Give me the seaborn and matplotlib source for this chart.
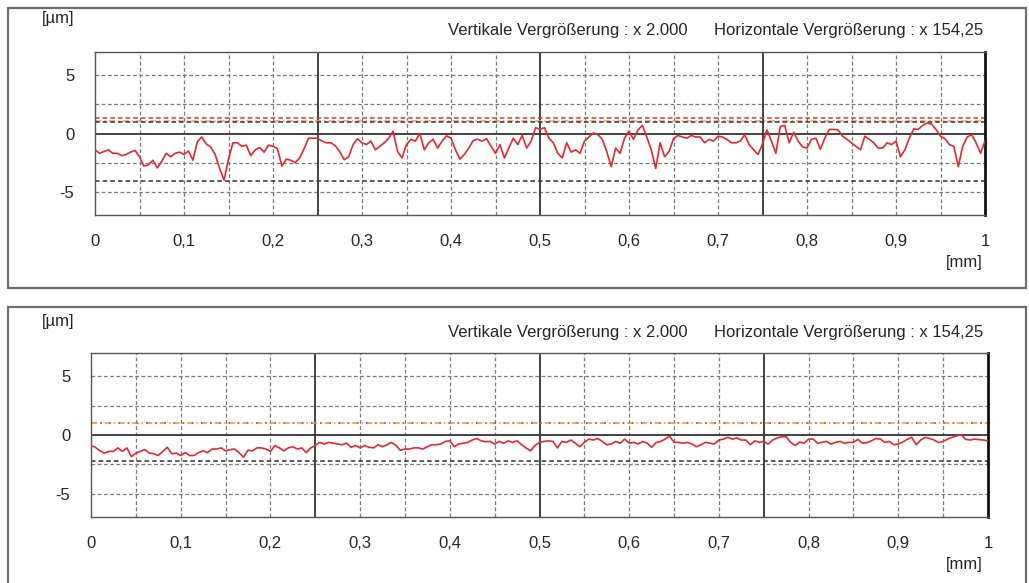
import matplotlib
matplotlib.use("Agg")
import matplotlib.pyplot as plt
from matplotlib.patches import Rectangle
from matplotlib.ticker import MultipleLocator, FixedLocator, FuncFormatter
import numpy as np
import pandas as pd
import seaborn as sns

top_um = [
    -1.4, -1.7, -1.55, -1.4, -1.7, -1.7, -1.9, -1.8, -1.6, -1.45,
    -2.0, -2.8, -2.7, -2.3, -2.95, -2.4, -1.7, -2.0, -1.7, -1.6,
    -1.8, -1.5, -2.3, -0.7, -0.3, -0.9, -1.15, -1.8, -3.0, -4.0,
    -2.2, -0.8, -0.8, -1.1, -1.0, -1.9, -1.4, -1.2, -1.6, -1.0,
    -1.1, -1.3, -2.8, -2.2, -2.3, -2.5, -2.1, -1.3, -0.4, -0.4,
    -0.4, -0.65, -0.8, -0.8, -1.05, -1.55, -2.25, -2.0, -0.95, -0.45,
    -0.8, -0.95, -0.65, -1.4, -1.1, -0.8, -0.4, 0.2, -1.55, -2.1,
    -0.95, -0.5, -0.65, 0.0, -1.4, -0.8, -0.5, -1.25, -0.65, -0.2,
    -0.4, -1.4, -2.2, -1.8, -1.25, -0.6, -0.5, -0.65, -0.45, -1.1,
    -1.7, -0.95, -2.1, -1.25, -0.4, -0.95, -0.17, -1.25, -0.65, 0.5,
    0.35, 0.5, -0.4, -0.8, -1.7, -2.1, -0.8, -1.6, -1.4, -1.7,
    -0.65, -0.3, 0.05, -0.1, -0.5, -1.55, -2.85, -1.25, -1.7, -0.4,
    0.2, -0.5, 0.3, 0.7, -0.3, -1.4, -3.0, -0.8, -2.0, -1.55,
    -0.45, -0.17, -0.3, -0.4, -0.17, -0.3, -0.3, -0.8, -0.5, -0.65,
    -0.23, -0.3, -0.5, -0.8, -0.8, -0.65, -0.1, -0.95, -1.4, -1.8,
    -0.9, 0.3, -0.65, -1.7, 0.6, 0.7, -0.8, 0.1, -0.65, -1.15,
    -1.25, -0.5, -0.4, -1.35, -0.4, 0.35, 0.35, 0.3, -0.23, -0.5,
    -0.8, -1.1, -1.4, -0.23, -0.5, -0.8, -1.25, -1.25, -0.8, -0.95,
    -0.65, -2.0, -1.4, -0.4, 0.4, 0.35, 0.7, 0.9, 0.8, 0.35,
    -0.23, -0.45, -0.95, -1.1, -2.85, -1.1, -0.3, -0.1, -0.8, -1.7,
    -0.65,
]
bottom_um = [
    -0.9, -1.05, -1.35, -1.55, -1.4, -1.4, -1.1, -1.4, -1.1, -1.85,
    -1.55, -1.4, -1.25, -1.55, -1.6, -1.75, -1.4, -1.05, -1.6, -1.55,
    -1.75, -1.5, -1.75, -1.75, -1.5, -1.35, -1.5, -1.2, -1.2, -1.1,
    -1.35, -1.25, -1.2, -1.5, -1.9, -1.3, -1.35, -1.1, -1.1, -1.2,
    -1.4, -0.9, -1.1, -1.35, -1.1, -1.0, -1.2, -1.1, -1.5, -1.1,
    -0.9, -0.63, -0.77, -0.63, -0.7, -0.77, -0.83, -0.7, -1.05, -0.9,
    -1.1, -0.9, -1.05, -1.1, -0.83, -1.0, -0.83, -0.63, -0.9, -1.3,
    -1.2, -1.2, -1.1, -1.1, -1.2, -1.0, -0.83, -0.83, -0.77, -0.55,
    -0.5, -1.0, -0.77, -0.7, -0.63, -0.43, -0.3, -0.5, -0.57, -0.55,
    -0.77, -0.55, -0.7, -0.5, -0.63, -0.5, -0.83, -1.1, -1.35, -0.9,
    -0.63, -0.55, -0.5, -0.55, -1.1, -0.55, -0.63, -0.43, -0.7, -1.0,
    -0.63, -0.35, -0.43, -0.3, -0.55, -0.83, -0.77, -0.55, -0.7, -0.35,
    -0.7, -0.63, -0.77, -0.55, -0.7, -1.05, -0.65, -0.55, -0.35, -0.1,
    -0.63, -0.63, -0.7, -0.63, -0.77, -1.0, -0.83, -0.63, -0.7, -0.77,
    -0.43, -0.35, -0.2, -0.35, -0.25, -0.43, -0.43, -0.83, -0.5, -0.63,
    -0.55, -0.77, -0.43, -0.25, -0.15, -0.15, -0.63, -0.9, -0.6, -0.7,
    -0.35, -0.35, -0.7, -0.63, -0.55, -0.77, -0.63, -0.55, -0.7, -0.63,
    -0.63, -0.37, -0.7, -0.65, -0.5, -0.3, -0.35, -0.63, -0.55, -0.83,
    -0.77, -0.6, -0.37, -0.2, -0.83, -0.43, -0.2, -0.3, -0.43, -0.65,
    -0.55, -0.35, -0.2, -0.08, 0.03, -0.37, -0.43, -0.35, -0.4, -0.43,
    -0.5,
]
x_mm = np.linspace(0, 1, len(top_um))

# Bezugslinien (Wert, Farbe, Linienstil)
top_refs = [(1.3, "#e8303a", (0, (3, 2))), (1.1, "#f0a040", (0, (4, 2, 1, 2))),
            (0.95, "#333333", (0, (3, 2))), (-4.1, "#333333", (0, (3, 2)))]
bottom_refs = [(1.0, "#f09030", (0, (4, 2, 1, 2))), (1.0, "#e8303a", (0, (1, 5))),
               (-2.2, "#333333", (0, (3, 2)))]

text_vert = "Vertikale Vergrößerung : x 2.000"
text_horz = "Horizontale Vergrößerung : x 154,25"

sns.set_style("white")
plt.rcParams["font.family"] = ["Liberation Sans", "DejaVu Sans"]
plt.rcParams["axes.unicode_minus"] = False

W, H = 1029, 583
fig = plt.figure(figsize=(W / 100, H / 100), dpi=100)


def fx(px):
    return px / W


def fy(py):
    return 1 - py / H


def panel(y_frame0, y_frame1, box, values, refs, y_off):
    fig.patches.append(Rectangle((fx(8), fy(y_frame1)), fx(1026) - fx(8), fy(y_frame0) - fy(y_frame1),
                                 transform=fig.transFigure, fill=False, edgecolor="#6e6e6e", linewidth=1.6))
    l, t, r, b = box
    ax = fig.add_axes([fx(l), fy(b), fx(r) - fx(l), fy(t) - fy(b)])
    ax.set_xlim(0, 1)
    ax.set_ylim(-7, 7)

    # Gitter
    for g in [-5, -2.5, 2.5, 5]:
        ax.axhline(g, color="#7a7a7a", lw=0.9, ls=(0, (3, 2)), zorder=1)
    for g in np.arange(0.05, 1.0, 0.05):
        if abs(g % 0.25) < 1e-6 or abs(g % 0.25 - 0.25) < 1e-6:
            ax.axvline(g, color="#222222", lw=1.2, zorder=1)
        else:
            ax.axvline(g, color="#7a7a7a", lw=0.9, ls=(0, (3, 2)), zorder=1)
    ax.axhline(0, color="#333333", lw=1.3, zorder=1)
    for val, col, ls in refs:
        ax.axhline(val, color=col, lw=1.1, ls=ls, zorder=2)

    df = pd.DataFrame({"x": x_mm, "y": values})
    sns.lineplot(data=df, x="x", y="y", ax=ax, color="#e8282d", linewidth=1.2, zorder=3)
    ax.set_xlabel("")
    ax.set_ylabel("")

    ax.xaxis.set_major_locator(MultipleLocator(0.1))
    ax.xaxis.set_minor_locator(MultipleLocator(0.01))
    ax.xaxis.set_major_formatter(FuncFormatter(lambda v, p: f"{v:.1f}".replace(".", ",").replace("0,0", "0").replace("1,0", "1")))
    ax.yaxis.set_major_locator(FixedLocator([-5, 0, 5]))
    ax.yaxis.set_minor_locator(MultipleLocator(0.5))
    ax.tick_params(axis="x", which="major", direction="out", length=6, color="#999999", pad=8, labelsize=12)
    ax.tick_params(axis="x", which="minor", direction="out", length=3, color="#aaaaaa")
    ax.tick_params(axis="y", which="major", direction="out", length=10, color="#999999", pad=5, labelsize=12)
    ax.tick_params(axis="y", which="minor", direction="out", length=3, color="#aaaaaa")
    for s in ["left", "top", "bottom"]:
        ax.spines[s].set_color("#555555")
        ax.spines[s].set_linewidth(1.0)
    ax.spines["right"].set_color("#111111")
    ax.spines["right"].set_linewidth(2.0)

    fig.text(fx(42), fy(y_off + 19), "[µm]", fontsize=12, va="center", ha="left")
    fig.text(fx(448), fy(y_off + 31), text_vert, fontsize=12, va="center", ha="left")
    fig.text(fx(983), fy(y_off + 31), text_horz, fontsize=12, va="center", ha="right")
    fig.text(fx(983), fy(b + 47), "[mm]", fontsize=12, va="center", ha="right")
    return ax


panel(8, 288, (95, 52, 985, 215), top_um, top_refs, 0)
panel(307, 600, (91, 353, 988, 517), bottom_um, bottom_refs, 302)

fig.savefig("out.png", dpi=100)
